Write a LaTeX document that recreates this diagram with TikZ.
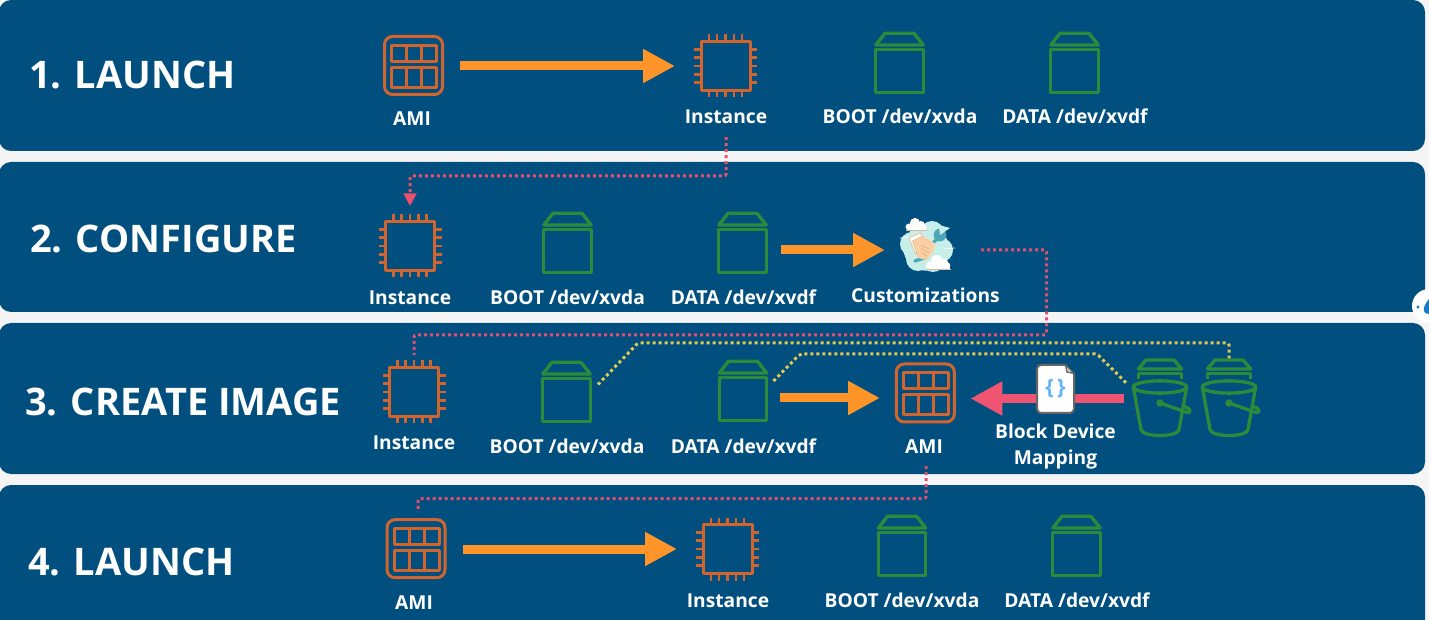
\documentclass[tikz,border=0pt]{standalone}
\usepackage{fontspec}
\setmainfont{Open Sans}
\usetikzlibrary{arrows.meta,calc}
\definecolor{bgc}{HTML}{F5F5F5}
\definecolor{bandc}{HTML}{004F7E}
\definecolor{chipc}{HTML}{D2652D}
\definecolor{volc}{HTML}{2D8A3A}
\definecolor{orangec}{HTML}{FF9429}
\definecolor{redc}{HTML}{EF5572}
\definecolor{pinkc}{HTML}{E8506E}
\definecolor{pinkd}{HTML}{E04F72}
\definecolor{yelc}{HTML}{E6C850}
\definecolor{cloudc}{HTML}{C8EEEA}
\definecolor{peachc}{HTML}{FBCFA6}
\definecolor{wrenchc}{HTML}{4BA6B8}
\definecolor{bracec}{HTML}{64B5F6}
\tikzset{
  band/.style={fill=bandc,draw=none,rounded corners=9pt},
  nodebox/.style={inner sep=0pt,outer sep=0pt,draw=none},
  amibox/.style={nodebox,minimum size=45.75pt},
  chipbox/.style={nodebox,minimum size=47.25pt},
  volbox/.style={nodebox,minimum width=35.25pt,minimum height=32.25pt},
  bucketbox/.style={nodebox,minimum width=40pt,minimum height=57.75pt},
  custbox/.style={nodebox,minimum size=40.5pt},
  lbl/.style={inner sep=0pt,outer sep=0pt,anchor=base,text=white,font=\fontsize{14.4}{19.5}\selectfont\bfseries},
  ttl/.style={inner sep=0pt,anchor=base west,text=white,font=\fontsize{28.5}{34}\selectfont\bfseries},
  thickarrow/.style={line width=6.75pt,-{Triangle[length=24pt,width=24pt]}},
  orangearrow/.style={thickarrow,draw=orangec},
  redarrow/.style={thickarrow,draw=redc},
  dotline/.style={line width=2.25pt,dash pattern=on 2.25pt off 2.25pt,rounded corners=1.5pt},
  pinkdot/.style={dotline,draw=pinkc},
  pinkdark/.style={dotline,draw=pinkd},
  yeldot/.style={dotline,draw=yelc},
  iconline/.style={line width=2.25pt,draw=chipc,line join=round},
  volline/.style={line width=2.5pt,draw=volc,line join=round},
  amiicon/.pic={
    \draw[iconline,rounded corners=6pt] (-29,-29) rectangle (29,29);
    \draw[iconline] (-22,-20) rectangle (23,-4);
    \draw[iconline] (-22,2) rectangle (23,22);
    \draw[iconline] (-7,-20) -- (-7,-4) (8,-20) -- (8,-4) (-7,2) -- (-7,22) (8,2) -- (8,22);
  },
  chipicon/.pic={
    \draw[iconline] (-24.5,-24.5) rectangle (24.5,24.5);
    \foreach \p in {-16.6,-8.3,0,8.3,16.6}{
      \draw[iconline,line width=1.9pt] (\p,-24.5) -- (\p,-31.5) (\p,24.5) -- (\p,31.5)
        (-24.5,\p) -- (-31.5,\p) (24.5,\p) -- (31.5,\p);
    }
  },
  volicon/.pic={
    \draw[volline] (-23.7,-21.7) rectangle (23.7,21.7);
    \draw[volline] (-23.7,-26) -- (-14.5,-37.7) -- (14.5,-37.7) -- (23.7,-26) -- cycle;
  },
  bucketicon/.pic={
    \draw[volline] (-21.7,-29.5) -- (-14,-38.5) -- (14,-38.5) -- (21.7,-29.5) -- cycle;
    \draw[volline] (-21.7,-19.5) -- (-21.7,-25) -- (21.7,-25) -- (21.7,-19.5);
    \draw[volline] (0,-11.5) circle[x radius=20pt,y radius=4.6pt];
    \draw[volline] (-26.7,-11.5) -- (-19,31) .. controls (-18,39) and (18,39) .. (19,31) -- (26.7,-11.5);
    \fill[volc] (0,4.5) circle[radius=2.8pt];
    \draw[volline,line cap=round] (0,4.5) -- (27,14) .. controls (31,15) and (32,10) .. (24,8);
  },
  smallcloud/.pic={
    \fill[white] (-7,3) circle[radius=2.6pt] (-1,-1) circle[radius=3.8pt] (5,1) circle[radius=3pt] (8,3) circle[radius=2pt];
    \fill[white] (-9,2) rectangle (10,6);
    \draw[line width=.5pt,draw=peachc!70!gray] (-10,6) -- (11,6);
  },
  custicon/.pic={
    \fill[cloudc] (0,0) circle[radius=17pt] (-14,-4) circle[radius=9pt] (6,-15) circle[radius=9pt]
      (15,2) circle[radius=9pt] (-8,11) circle[radius=9pt] (7,12) circle[radius=9pt] (-6,-14) circle[radius=8pt];
    % wrench
    \draw[wrenchc,line width=2.6pt,line cap=round] (-11,13) -- (-2,10) (6,-4) -- (14,-12);
    \fill[wrenchc] (14,-13) circle[radius=4.8pt];
    \fill[cloudc] (14,-13) -- (13,-23) -- (24,-20) -- cycle;
    % hand
    \fill[peachc] (-14,-7) -- (-3,-12) -- (9,-4.7) -- (7,4) -- (1,12) -- (-8,10) -- cycle;
    \draw[peachc!60!brown,line width=.5pt] (-5,-3) -- (3,1) (-5,1) -- (3,5) (-4,5) -- (1,8);
    % cuff
    \fill[white,draw=peachc!60!brown,line width=.4pt] (-17,-10) -- (-6,-15) -- (-3.5,-12) -- (-13.5,-7) -- (-9,6) -- (-11,5) -- cycle;
    \pic at (-10,-24) {smallcloud};
    \pic[scale=1.15] at (12,14) {smallcloud};
    \draw[white,line width=.5pt] (-26,-10) -- (-17,-11) (18,1) -- (29,0);
  },
}
\begin{document}
\begin{tikzpicture}[x=0.75pt,y=-0.75pt]
\clip (0,0) rectangle (1429,620);
\fill[bgc] (0,0) rectangle (1429,620);
% bands
\path[band] (-1,0) rectangle (1425,151);
\path[band] (-1,162) rectangle (1425,312);
\path[band] (-1,323) rectangle (1425,474);
\path[band] (-1,485) rectangle (1425,650);
% titles
\node[ttl] (t1) at (29,88.5) {1. LAUNCH};
\node[ttl] (t2) at (30,252.5) {2. CONFIGURE};
\node[ttl] (t3) at (25,416) {3. CREATE IMAGE};
\node[ttl] (t4) at (28,575.5) {4. LAUNCH};
% icon anchors
\node[amibox] (ami1) at (413.5,65.5) {};
\node[chipbox] (chip1) at (725.5,66) {};
\node[volbox] (boot1) at (899.5,71) {};
\node[volbox] (data1) at (1074.5,71) {};
\node[chipbox] (chip2) at (410,246) {};
\node[volbox] (boot2) at (567.5,251) {};
\node[volbox] (data2) at (742.5,251) {};
\node[custbox] (cust) at (926,248) {};
\node[chipbox] (chip3) at (414,392) {};
\node[volbox] (boot3) at (566.5,400) {};
\node[volbox] (data3) at (743,399) {};
\node[amibox] (ami3) at (925.3,393) {};
\node[bucketbox] (bucket1) at (1160,398.5) {};
\node[bucketbox] (bucket2) at (1229,398.5) {};
\node[amibox] (ami4) at (416,548.7) {};
\node[chipbox] (chip4) at (727.5,549) {};
\node[volbox] (boot4) at (902,554) {};
\node[volbox] (data4) at (1076.5,554) {};
% labels
\node[lbl] (lami1) at (412,126) {AMI};
\node[lbl] (linst1) at (726,124) {Instance};
\node[lbl] (lboot1) at (900,124) {BOOT /dev/xvda};
\node[lbl] (ldata1) at (1075,124) {DATA /dev/xvdf};
\node[lbl] (linst2) at (410,305) {Instance};
\node[lbl] (lboot2) at (567.5,305) {BOOT /dev/xvda};
\node[lbl] (ldata2) at (743.5,305) {DATA /dev/xvdf};
\node[lbl] (lcust) at (925.5,303) {Customizations};
\node[lbl] (linst3) at (414,450) {Instance};
\node[lbl] (lboot3) at (567,454) {BOOT /dev/xvda};
\node[lbl] (ldata3) at (743.5,453) {DATA /dev/xvdf};
\node[lbl] (lami3) at (924,454) {AMI};
\node[lbl,anchor=center,align=center] (lbdm) at (1055.5,447) {Block Device\\Mapping};
\node[lbl] (lami4) at (414,609) {AMI};
\node[lbl] (linst4) at (728,607) {Instance};
\node[lbl] (lboot4) at (902,607) {BOOT /dev/xvda};
\node[lbl] (ldata4) at (1077,607) {DATA /dev/xvdf};
% waypoints
\coordinate (p1) at (726,176);
\coordinate (p2) at (1046.5,250);
\coordinate (p3) at (1046.5,335);
\coordinate (y1a) at (638,343);
\coordinate (y2a) at (800,354);
\coordinate (y2b) at (1097,354);
\coordinate (p4) at (926,498.5);
\coordinate (p5) at (418,498.5);
% dotted connectors
\draw[pinkdot,shorten <=9.75pt,shorten >=6.4pt,-{Triangle[length=9.5pt,width=9.5pt]}] (linst1.south) -- (p1) -- (p1 -| chip2.north) -- (chip2.north);
\draw[pinkdark,shorten <=21pt,shorten >=4pt] ([yshift=-1.5pt]cust.east) -- (p2) -- (p3) -- (p3 -| chip3.north) -- (chip3.north);
\draw[yeldot] ([xshift=6pt,yshift=-4.5pt]boot3.north east) -- (y1a) -- (y1a -| bucket2.north) -- (bucket2.north);
\draw[yeldot] ([xshift=5.25pt,yshift=13.5pt]data3.east) -- (y2a) -- (y2b) -- ([xshift=-5.25pt,yshift=11.6pt]bucket1.west);
\draw[pinkdark,shorten <=9pt,shorten >=4.5pt] ([xshift=1.5pt]lami3.south) -- (p4) -- (p5) -- ([xshift=1.5pt]ami4.north);
% thick arrows
\draw[orangearrow,shorten <=12pt,shorten >=14.25pt] ([yshift=-.375pt]ami1.east) -- (chip1.west);
\draw[orangearrow,shorten <=11.6pt,shorten >=10.5pt] ([yshift=.75pt]data2.east) -- ([yshift=-1.5pt]cust.west);
\draw[orangearrow,shorten <=9.75pt,shorten >=11.1pt] ([yshift=.75pt]data3.east) -- ([yshift=-3.75pt]ami3.west);
\draw[orangearrow,shorten <=12.4pt,shorten >=14.25pt] ([yshift=-.225pt]ami4.east) -- (chip4.west);
\draw[redarrow,shorten <=6.75pt,shorten >=10.9pt] (bucket1.west) -- ([yshift=-4.125pt]ami3.east);
% icons
\pic at (ami1) {amiicon};
\pic at (ami3) {amiicon};
\pic at (ami4) {amiicon};
\foreach \c in {chip1,chip2,chip3,chip4}{\pic at (\c) {chipicon};}
\foreach \c in {boot1,data1,boot2,data2,boot3,data3,boot4,data4}{\pic at (\c) {volicon};}
\pic at (bucket1) {bucketicon};
\pic at (bucket2) {bucketicon};
\pic at (cust) {custicon};
% document
\node[rectangle,rounded corners=3pt,fill=white,draw=black!60,line width=1.5pt,minimum width=27.75pt,minimum height=36pt,inner sep=0pt,text=bracec,font=\fontsize{16}{16}\selectfont\bfseries] (doc) at (1055.5,389) {\{\hspace{2.5pt}\}};
\fill[bandc] (1065,364) -- (1076,364) -- (1076,375) -- cycle;
\fill[white!85!black,draw=black!60,line width=1pt,line join=round] (1065.5,365) -- (1074,373.5) -- (1067,372) -- cycle;
% floating badge
\fill[white] (1429,306) circle[radius=12.75pt];
\fill[cyan!60!blue] (1429,299) .. controls (1425,304) and (1423,308) .. (1424,311) .. controls (1425,315) and (1433,315) .. (1434,311) .. controls (1435,308) and (1433,304) .. (1429,299) -- cycle;
\fill[cyan!60!blue] (1418,307) circle[radius=1.2pt];
\end{tikzpicture}
\end{document}
